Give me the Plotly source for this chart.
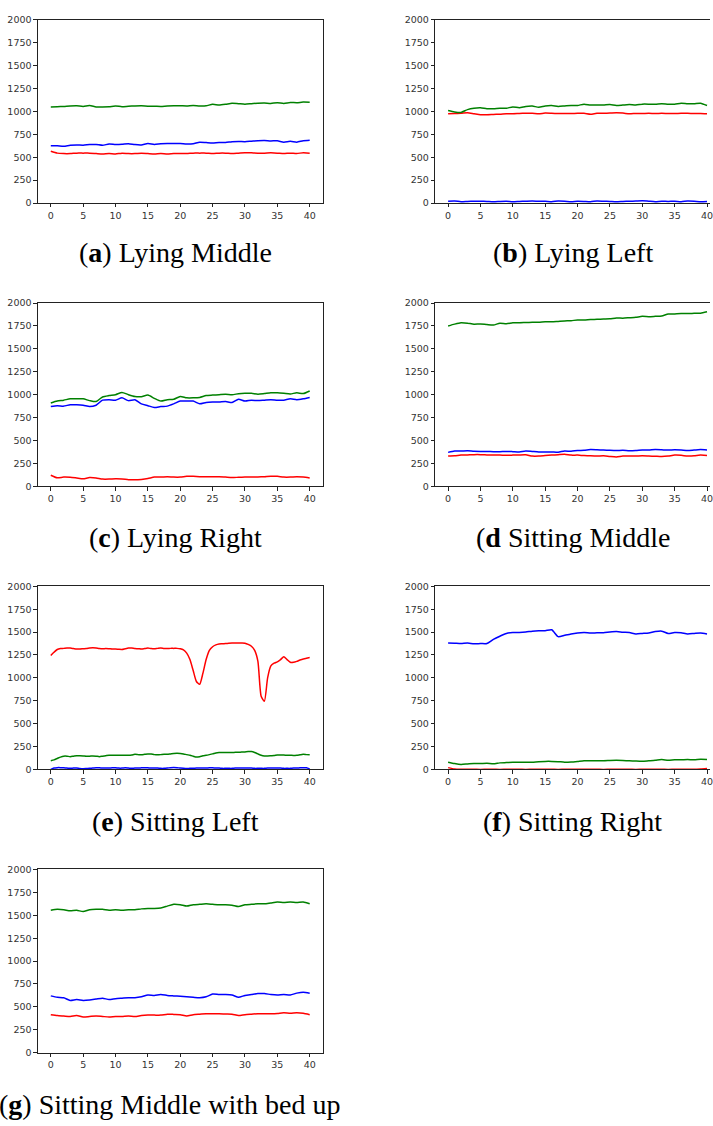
import plotly.graph_objects as go

# ---------------- data ----------------
x41 = list(range(41))
x81 = [i * 0.5 for i in range(81)]

a_red = [565,545,540,540,545,545,545,540,535,540,535,545,540,540,545,540,535,540,535,540,540,540,545,545,545,540,545,545,540,545,550,548,545,545,548,545,540,545,540,550,545]
a_blue = [625,625,620,632,635,632,638,640,630,645,640,642,648,638,635,650,640,648,650,650,650,645,648,665,660,655,662,660,670,672,670,675,680,682,678,680,665,675,665,680,685]
a_green = [1050,1052,1055,1060,1062,1055,1065,1050,1050,1052,1060,1052,1057,1060,1062,1058,1058,1055,1060,1062,1062,1060,1064,1060,1062,1078,1070,1078,1090,1085,1080,1085,1090,1092,1088,1095,1088,1098,1095,1102,1100]

b_red = [975,978,980,985,975,965,965,968,970,975,975,978,980,980,975,982,980,978,978,978,980,980,970,980,980,982,985,982,975,978,978,980,978,980,978,978,980,980,978,978,975]
b_blue = [20,22,15,18,20,20,18,15,18,20,15,18,20,22,20,20,15,22,20,15,20,18,15,22,20,18,15,18,20,22,25,20,15,20,18,20,15,22,20,15,18]
b_green = [1010,995,990,1020,1035,1040,1030,1030,1035,1035,1050,1040,1055,1060,1045,1060,1065,1055,1060,1065,1065,1080,1070,1070,1070,1075,1065,1070,1075,1070,1080,1080,1078,1085,1080,1080,1090,1085,1085,1090,1065]

c_red = [120,92,100,98,90,82,95,90,78,78,82,80,72,70,75,85,100,100,105,100,100,108,108,105,105,105,105,100,95,98,100,100,102,105,110,108,100,100,105,100,90]
c_blue = [870,880,875,890,890,885,870,885,940,945,940,965,935,945,900,880,860,870,875,900,930,930,930,900,915,920,920,925,915,950,930,940,935,940,945,940,940,955,945,955,970]
c_green = [910,930,940,955,955,955,935,925,975,990,1000,1025,1000,980,978,995,960,930,945,950,980,965,965,970,990,995,1000,1005,1000,1010,1015,1015,1005,1012,1020,1020,1015,1008,1020,1012,1040]

d_red = [330,332,340,342,345,345,342,340,340,338,340,342,343,330,330,335,340,345,350,340,340,335,332,330,332,325,320,330,330,330,332,330,328,325,330,340,338,330,332,340,335]
d_blue = [370,385,385,388,382,380,380,378,378,380,378,375,385,380,375,375,375,372,385,382,390,392,400,398,395,392,390,392,388,390,395,395,400,398,395,398,395,390,395,400,395]
d_green = [1750,1770,1785,1780,1770,1772,1765,1760,1780,1775,1785,1785,1788,1790,1790,1795,1795,1800,1805,1808,1815,1815,1820,1822,1825,1828,1838,1835,1840,1845,1855,1852,1855,1858,1880,1882,1885,1885,1888,1890,1905]

e_red = [1245,1280,1310,1320,1322,1325,1325,1320,1315,1315,1318,1320,1325,1328,1325,1320,1318,1320,1318,1315,
         1315,1312,1310,1318,1325,1325,1320,1318,1315,1320,1325,1320,1318,1322,1325,1320,1320,1322,1322,1322,
         1318,1305,1270,1200,1080,960,930,1050,1200,1300,1340,1360,1370,1372,1375,1378,1380,1380,1380,1380,
         1378,1365,1345,1300,1180,800,745,1000,1130,1160,1175,1200,1230,1200,1170,1170,1180,1195,1205,1215,1222]
e_blue = [0,15,20,20,18,15,12,15,15,10,8,10,12,15,18,18,15,15,15,18,
          18,15,15,18,15,12,15,15,18,20,18,15,15,15,12,12,15,20,22,20,
          15,12,10,12,12,15,15,15,15,18,18,15,15,12,12,12,12,15,15,15,
          15,15,15,12,12,12,12,15,15,15,15,15,12,12,12,15,15,18,20,18,5]
e_green = [95,105,120,135,145,145,140,145,150,150,148,145,145,148,145,140,145,150,155,155,
           155,155,155,155,155,158,165,162,160,165,170,168,162,160,162,165,165,170,175,178,
           175,170,162,155,145,135,140,150,155,162,170,180,185,185,185,185,185,187,188,190,
           192,195,195,185,170,155,148,148,150,152,158,158,158,155,155,153,155,160,165,162,160]

f_red = [20,5,2,2,2,0,2,2,0,2,2,2,0,2,2,2,2,0,2,2,2,2,2,2,0,2,2,2,2,0,2,2,2,2,0,2,2,2,2,5,10]
f_blue = [1380,1378,1375,1380,1372,1375,1375,1420,1455,1485,1495,1495,1500,1510,1515,1515,1525,1450,1465,1480,1490,1495,1490,1492,1492,1500,1505,1498,1495,1480,1485,1490,1505,1510,1485,1495,1492,1480,1485,1490,1480]
f_green = [80,65,55,60,65,65,68,62,72,75,78,78,78,80,85,88,88,85,80,82,88,95,95,95,95,98,100,98,95,92,90,95,100,108,100,105,105,108,105,112,110]

g_red = [415,405,400,395,405,390,395,400,395,390,395,395,400,395,405,410,410,410,420,418,415,400,415,420,425,425,425,422,420,405,415,420,425,425,425,428,435,430,435,430,415]
g_blue = [620,605,600,570,580,570,575,585,595,580,590,595,600,600,610,630,625,635,625,620,615,610,605,600,610,640,635,635,630,605,625,635,645,645,635,630,635,630,650,660,650]
g_green = [1555,1565,1560,1550,1555,1540,1560,1565,1565,1555,1560,1555,1560,1560,1570,1575,1575,1580,1600,1620,1615,1600,1615,1620,1625,1620,1615,1615,1610,1595,1615,1620,1625,1625,1635,1645,1640,1645,1640,1645,1625]

captions = ["(<b>a</b>) Lying Middle", "(<b>b</b>) Lying Left", "(<b>c</b>) Lying Right",
            "(<b>d</b> Sitting Middle", "(<b>e</b>) Sitting Left", "(<b>f</b>) Sitting Right",
            "(<b>g</b>) Sitting Middle with bed up"]

y_ticks = [0, 250, 500, 750, 1000, 1250, 1500, 1750, 2000]
x_ticks = [0, 5, 10, 15, 20, 25, 30, 35, 40]

panels = [
    (x41, a_red, a_blue, a_green),
    (x41, b_red, b_blue, b_green),
    (x41, c_red, c_blue, c_green),
    (x41, d_red, d_blue, d_green),
    (x81, e_red, e_blue, e_green),
    (x41, f_red, f_blue, f_green),
    (x41, g_red, g_blue, g_green),
]

# ---------------- layout geometry ----------------
W, H = 713, 1126
cols = [(38, 324), (437, 713)]
rows = [(14, 199), (300, 485), (586, 771), (872, 1057)]
cap_y = [249, 537, 824, 1109]
cap_x = [[176, 575], [176, 575], [176, 575], [170, 575]]

def fx(p):
    return p / W

def fy(p):
    return 1 - p / H

fig = go.Figure()
layout = dict(width=W, height=H, margin=dict(l=0, r=0, t=0, b=0),
              paper_bgcolor="white", plot_bgcolor="white", showlegend=False)
annotations = []
tickfont = dict(family="DejaVu Sans", size=9.5, color="#333333")

for i, (xs, r, b, g) in enumerate(panels):
    row, col = divmod(i, 2)
    k = "" if i == 0 else str(i + 1)
    x0, x1 = cols[col]
    y0, y1 = rows[row]
    xr = [-2, 42] if col == 0 else [-2, -2 + (x1 - x0) / 6.5]
    layout["xaxis" + k] = dict(domain=[fx(x0), fx(x1)], range=xr, anchor="y" + k,
                               showline=True, linecolor="#222", linewidth=0.8, mirror=True,
                               ticks="outside", ticklen=3.5, tickwidth=0.8, tickcolor="#222",
                               tickvals=x_ticks, showgrid=False, zeroline=False, tickfont=tickfont,
                               ticklabeloverflow="allow")
    layout["yaxis" + k] = dict(domain=[fy(y1), fy(y0)], range=[0, 2000], anchor="x" + k,
                               showline=True, linecolor="#222", linewidth=0.8,
                               mirror=(col == 0),
                               ticks="outside", ticklen=3.5, tickwidth=0.8, tickcolor="#222",
                               tickvals=y_ticks, showgrid=False, zeroline=False, tickfont=tickfont)
    for ys, c in ((r, "#ff0000"), (b, "#0000ff"), (g, "#008000")):
        fig.add_trace(go.Scatter(x=xs, y=ys, mode="lines", xaxis="x" + k, yaxis="y" + k,
                                 line=dict(color=c, width=1.5, shape="spline", smoothing=0.6),
                                 hoverinfo="skip"))
    annotations.append(dict(text=captions[i], xref="paper", yref="paper",
                            x=fx(cap_x[row][col]), y=fy(cap_y[row]), xanchor="center", yanchor="middle",
                            showarrow=False,
                            font=dict(family="Liberation Serif", size=28, color="black")))

layout["annotations"] = annotations
fig.update_layout(**layout)
fig.write_html("out.html", config={"displayModeBar": False},
               post_script="document.body.style.margin='0';document.body.style.overflow='hidden';")
